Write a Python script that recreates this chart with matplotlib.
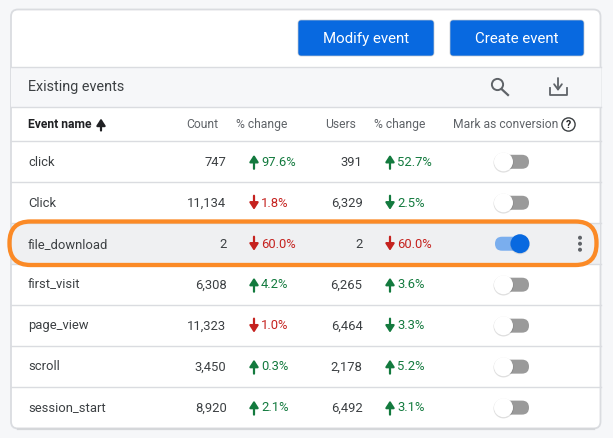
import matplotlib
matplotlib.use('Agg')
import matplotlib.pyplot as plt
from matplotlib.patches import FancyBboxPatch, Circle, Rectangle

plt.rcParams['font.family'] = ['Roboto', 'DejaVu Sans']

# table contents
events = ['click', 'Click', 'file_download', 'first_visit', 'page_view', 'scroll', 'session_start']
counts = ['747', '11,134', '2', '6,308', '11,323', '3,450', '8,920']
count_change = ['97.6%', '1.8%', '60.0%', '4.2%', '1.0%', '0.3%', '2.1%']
count_up = [True, False, False, True, False, True, True]
count_good = [True, False, False, True, False, True, True]
users = ['391', '6,329', '2', '6,265', '6,464', '2,178', '6,492']
users_change = ['52.7%', '2.5%', '60.0%', '3.6%', '3.3%', '5.2%', '3.1%']
users_up = [True, False, False, True, False, True, True]
users_good = [True, True, False, True, True, True, True]
conversion_on = [False, False, True, False, False, False, False]

BLUE = '#0869e0'
GREEN = '#137a3e'
RED = '#c5221f'
TEXT = '#3c4043'
GREY = '#5f6368'
LINE = '#dadce0'
ORANGE = '#fb8a26'

fig = plt.figure(figsize=(6.13, 4.38), dpi=100, facecolor='#f6f7f9')
ax = fig.add_axes([0, 0, 1, 1])
ax.set_xlim(0, 613)
ax.set_ylim(438, 0)
ax.axis('off')


def round_box(x, y, w, h, r, **kw):
    box = FancyBboxPatch((x + r, y + r), w - 2 * r, h - 2 * r,
                         boxstyle=f'round,pad={r},rounding_size={r}', **kw)
    ax.add_patch(box)
    return box


def arrow(x, y, up, color, half=7):
    # small material style arrow, y is the row centre
    y0, y1 = (y + half, y - half) if up else (y - half, y + half)
    ax.annotate('', xy=(x, y1), xytext=(x, y0),
                arrowprops=dict(arrowstyle='-|>,head_width=0.26,head_length=0.4', color=color,
                                lw=1.6, shrinkA=0, shrinkB=0), zorder=4)


def toggle(y, on):
    if on:
        round_box(495, y - 7, 34, 14, 7, fc='#7aaeee', ec='none', zorder=3)
        ax.add_patch(Circle((520, y + 0.8), 9.8, fc='#00000018', ec='none', zorder=3.5))
        ax.add_patch(Circle((520, y), 9.5, fc=BLUE, ec='none', zorder=4))
    else:
        round_box(495, y - 7, 34, 14, 7, fc='#9a9a9a', ec='none', zorder=3)
        ax.add_patch(Circle((503.5, y + 0.8), 10, fc='#00000020', ec='none', zorder=3.5))
        ax.add_patch(Circle((503.5, y), 9.5, fc='white', ec='none', zorder=4))


# card
round_box(11, 9.5, 589.5, 419, 7, fc='white', ec=LINE, lw=1.3, zorder=1)

# buttons
round_box(298, 20, 136, 36, 3, fc=BLUE, ec='#c4c8cc', lw=0.5, zorder=2)
round_box(450, 20, 134, 36, 3, fc=BLUE, ec='#c4c8cc', lw=0.5, zorder=2)
ax.text(366, 43, 'Modify event', color='white', fontsize=10.8, ha='center', va='baseline', zorder=3)
ax.text(517, 43, 'Create event', color='white', fontsize=10.8, ha='center', va='baseline', zorder=3)

# grey title band
ax.add_patch(Rectangle((11, 66.5), 589.5, 40, fc='#f6f7f9', ec='none', zorder=2))
ax.text(28, 90.5, 'Existing events', color=TEXT, fontsize=10.4, ha='left', va='baseline', zorder=3)

# search icon
ax.add_patch(Circle((497.5, 84.5), 5.6, fc='none', ec=GREY, lw=1.4, zorder=3))
ax.plot([501.5, 508], [89, 95], color=GREY, lw=1.6, zorder=3)
# download icon
ax.plot([550, 550, 566.5, 566.5], [88, 95, 95, 88], color=GREY, lw=1.3, zorder=3)
ax.annotate('', xy=(558, 91), xytext=(558, 78),
            arrowprops=dict(arrowstyle='->,head_width=0.28,head_length=0.38', color=GREY, lw=1.3,
                            shrinkA=0, shrinkB=0), zorder=3)

# column headers
ax.text(28, 128, 'Event name', color='#202124', fontsize=8.7, fontweight='bold', ha='left', va='baseline', zorder=3)
arrow(101, 124.5, True, '#202124', half=6)
ax.text(218, 128, 'Count', color=GREY, fontsize=8.75, ha='right', va='baseline', zorder=3)
ax.text(236, 128, '% change', color=GREY, fontsize=8.75, ha='left', va='baseline', zorder=3)
ax.text(356.5, 128, 'Users', color=GREY, fontsize=8.75, ha='right', va='baseline', zorder=3)
ax.text(374, 128, '% change', color=GREY, fontsize=8.75, ha='left', va='baseline', zorder=3)
ax.text(453, 128, 'Mark as conversion', color=GREY, fontsize=8.75, ha='left', va='baseline', zorder=3)
ax.add_patch(Circle((568.5, 124.5), 6.6, fc='none', ec='#3c4043', lw=1.0, zorder=3))
ax.text(568.5, 128, '?', color='#202124', fontsize=7.5, fontweight='bold', ha='center', va='baseline', zorder=3)

# rows
row_height = 40.97
first_line = 141.3
for y in [66.5, 106.5]:
    ax.plot([11, 600.5], [y, y], color=LINE, lw=1.0, zorder=3)
ax.plot([11, 600.5], [first_line, first_line], color=LINE, lw=1.0, zorder=3)

for i, name in enumerate(events):
    y = first_line + row_height * (i + 0.5)
    bottom = first_line + row_height * (i + 1)
    ty = y + 3.8
    if conversion_on[i]:
        ax.add_patch(Rectangle((11.5, y - row_height / 2), 588.5, row_height, fc='#eff0f2', ec='none', zorder=1.5))
    if i < len(events) - 1:
        ax.plot([11, 600.5], [bottom, bottom], color=LINE, lw=1.0, zorder=2)
    ax.text(28, ty, name, color=TEXT, fontsize=9.4, ha='left', va='baseline', zorder=3)
    ax.text(226.5, ty, counts[i], color=TEXT, fontsize=9.4, ha='right', va='baseline', zorder=3)
    c = GREEN if count_good[i] else RED
    arrow(254, y, count_up[i], c)
    ax.text(261, ty, count_change[i], color=c, fontsize=9.4, ha='left', va='baseline', zorder=3)
    ax.text(362.5, ty, users[i], color=TEXT, fontsize=9.4, ha='right', va='baseline', zorder=3)
    c = GREEN if users_good[i] else RED
    arrow(390, y, users_up[i], c)
    ax.text(397.5, ty, users_change[i], color=c, fontsize=9.4, ha='left', va='baseline', zorder=3)
    toggle(y, conversion_on[i])
    if conversion_on[i]:
        for dy in (-6, 0, 6):
            ax.add_patch(Circle((580, y + dy), 2, fc=GREY, ec='none', zorder=3))

# thicker bottom edge of the card
ax.plot([18, 594], [429, 429], color='#d5d7da', lw=1.6, zorder=2)

# orange highlight around the file_download row
round_box(9.5, 221.5, 587, 43.5, 21, fc='none', ec=ORANGE, lw=3.1, zorder=5)

fig.savefig('out.png', dpi=100, facecolor=fig.get_facecolor())
